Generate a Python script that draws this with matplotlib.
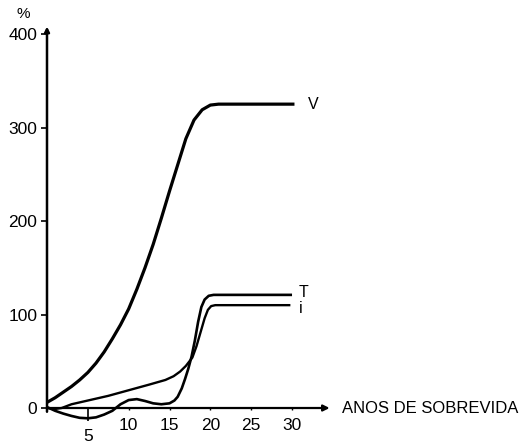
import matplotlib
matplotlib.use("Agg")
import matplotlib.pyplot as plt

plt.rcParams['font.family'] = ['Liberation Sans', 'DejaVu Sans']

# Years of survival and percentage change for each curve
years_v = [0, 1, 2, 3, 4, 5, 6, 7, 8, 9, 10, 11, 12, 13, 14, 15, 16, 17, 18, 19, 20, 21, 30.3]
pct_v = [6, 11, 17, 23, 30, 38, 48, 60, 74, 89, 106, 127, 150, 175, 203, 232, 260, 288, 308, 319, 324, 325, 325]

years_t = [0, 1, 2, 3, 4, 5, 6, 7, 8, 9, 10, 11, 12, 13, 14, 15, 15.6, 16.0, 16.5,
           16.9, 17.3, 17.7, 18.1, 18.5, 18.9, 19.3, 19.8, 20.4, 30]
pct_t = [1, -3, -6, -8.5, -10.5, -11, -10, -7, -3, 4, 8.5, 9.5, 7.5, 5, 4, 5, 8, 12, 21,
         31, 42, 55, 72, 92, 108, 116, 120, 121, 121]

years_i = [0, 1, 1.8, 3, 5, 7.5, 10, 12.5, 14.5, 15.5, 16.3, 17, 17.8, 18.3, 18.8,
           19.3, 19.7, 20.1, 20.6, 29.8]
pct_i = [0, -1, 0, 4, 8, 13, 19, 25, 30, 34, 39, 45, 54, 66, 81, 96, 105, 109, 110, 110]

curve_names = ['V', 'T', 'i']
y_ticks = [0, 100, 200, 300, 400]
x_ticks = [10, 15, 20, 25, 30]
x_tick_low = [5]

fig = plt.figure(figsize=(5.23, 4.44), dpi=100)
ax = fig.add_axes([47 / 523, 0, (330 - 47) / 523, 1 - 20 / 444])
ax.set_xlim(0, 34.65)
ax.set_ylim(-38.5, 415)

ax.plot(years_v, pct_v, color='black', lw=2.3, solid_capstyle='butt')
ax.plot(years_t, pct_t, color='black', lw=1.9, solid_capstyle='butt')
ax.plot(years_i, pct_i, color='black', lw=1.7, solid_capstyle='butt')

# curve labels at the end of each plateau
ax.text(years_v[-1] + 1.6, pct_v[-1], curve_names[0], fontsize=11.5, va='center', ha='left')
ax.text(years_t[-1] + 0.8, pct_t[-1] + 3, curve_names[1], fontsize=11.5, va='center', ha='left')
ax.text(years_i[-1] + 1.0, pct_i[-1] - 4, curve_names[2], fontsize=11.5, va='center', ha='left')

# axes drawn as arrows
for s in ax.spines.values():
    s.set_visible(False)
ax.spines['bottom'].set_position(('data', 0))
ax.spines['left'].set_position(('data', 0))
ax.annotate('', xy=(34.6, 0), xytext=(0, 0),
            arrowprops=dict(arrowstyle='-|>', lw=1.6, color='black',
                            mutation_scale=9, shrinkA=0, shrinkB=0))
ax.annotate('', xy=(0, 408), xytext=(0, -4),
            arrowprops=dict(arrowstyle='-|>', lw=1.8, color='black',
                            mutation_scale=7, shrinkA=0, shrinkB=0))

ax.set_yticks(y_ticks, [str(v) for v in y_ticks])
ax.tick_params(axis='y', direction='out', length=4, width=1.2, pad=3, labelsize=12.5)

ax.set_xticks(x_ticks, [str(v) for v in x_ticks])
ax.set_xticks(x_tick_low, [str(v) for v in x_tick_low], minor=True)
ax.tick_params(axis='x', which='major', direction='out', length=1.5, width=1.0,
               pad=5.5, labelsize=12.5)
ax.tick_params(axis='x', which='minor', direction='out', length=9, width=1.2,
               pad=6, labelsize=12.5)

ax.text(-2.9, 421, '%', fontsize=11, ha='center', va='center', clip_on=False)
ax.text(36.1, 0, 'ANOS DE SOBREVIDA', fontsize=12, ha='left', va='center', clip_on=False)

fig.savefig('out.png', dpi=100)
